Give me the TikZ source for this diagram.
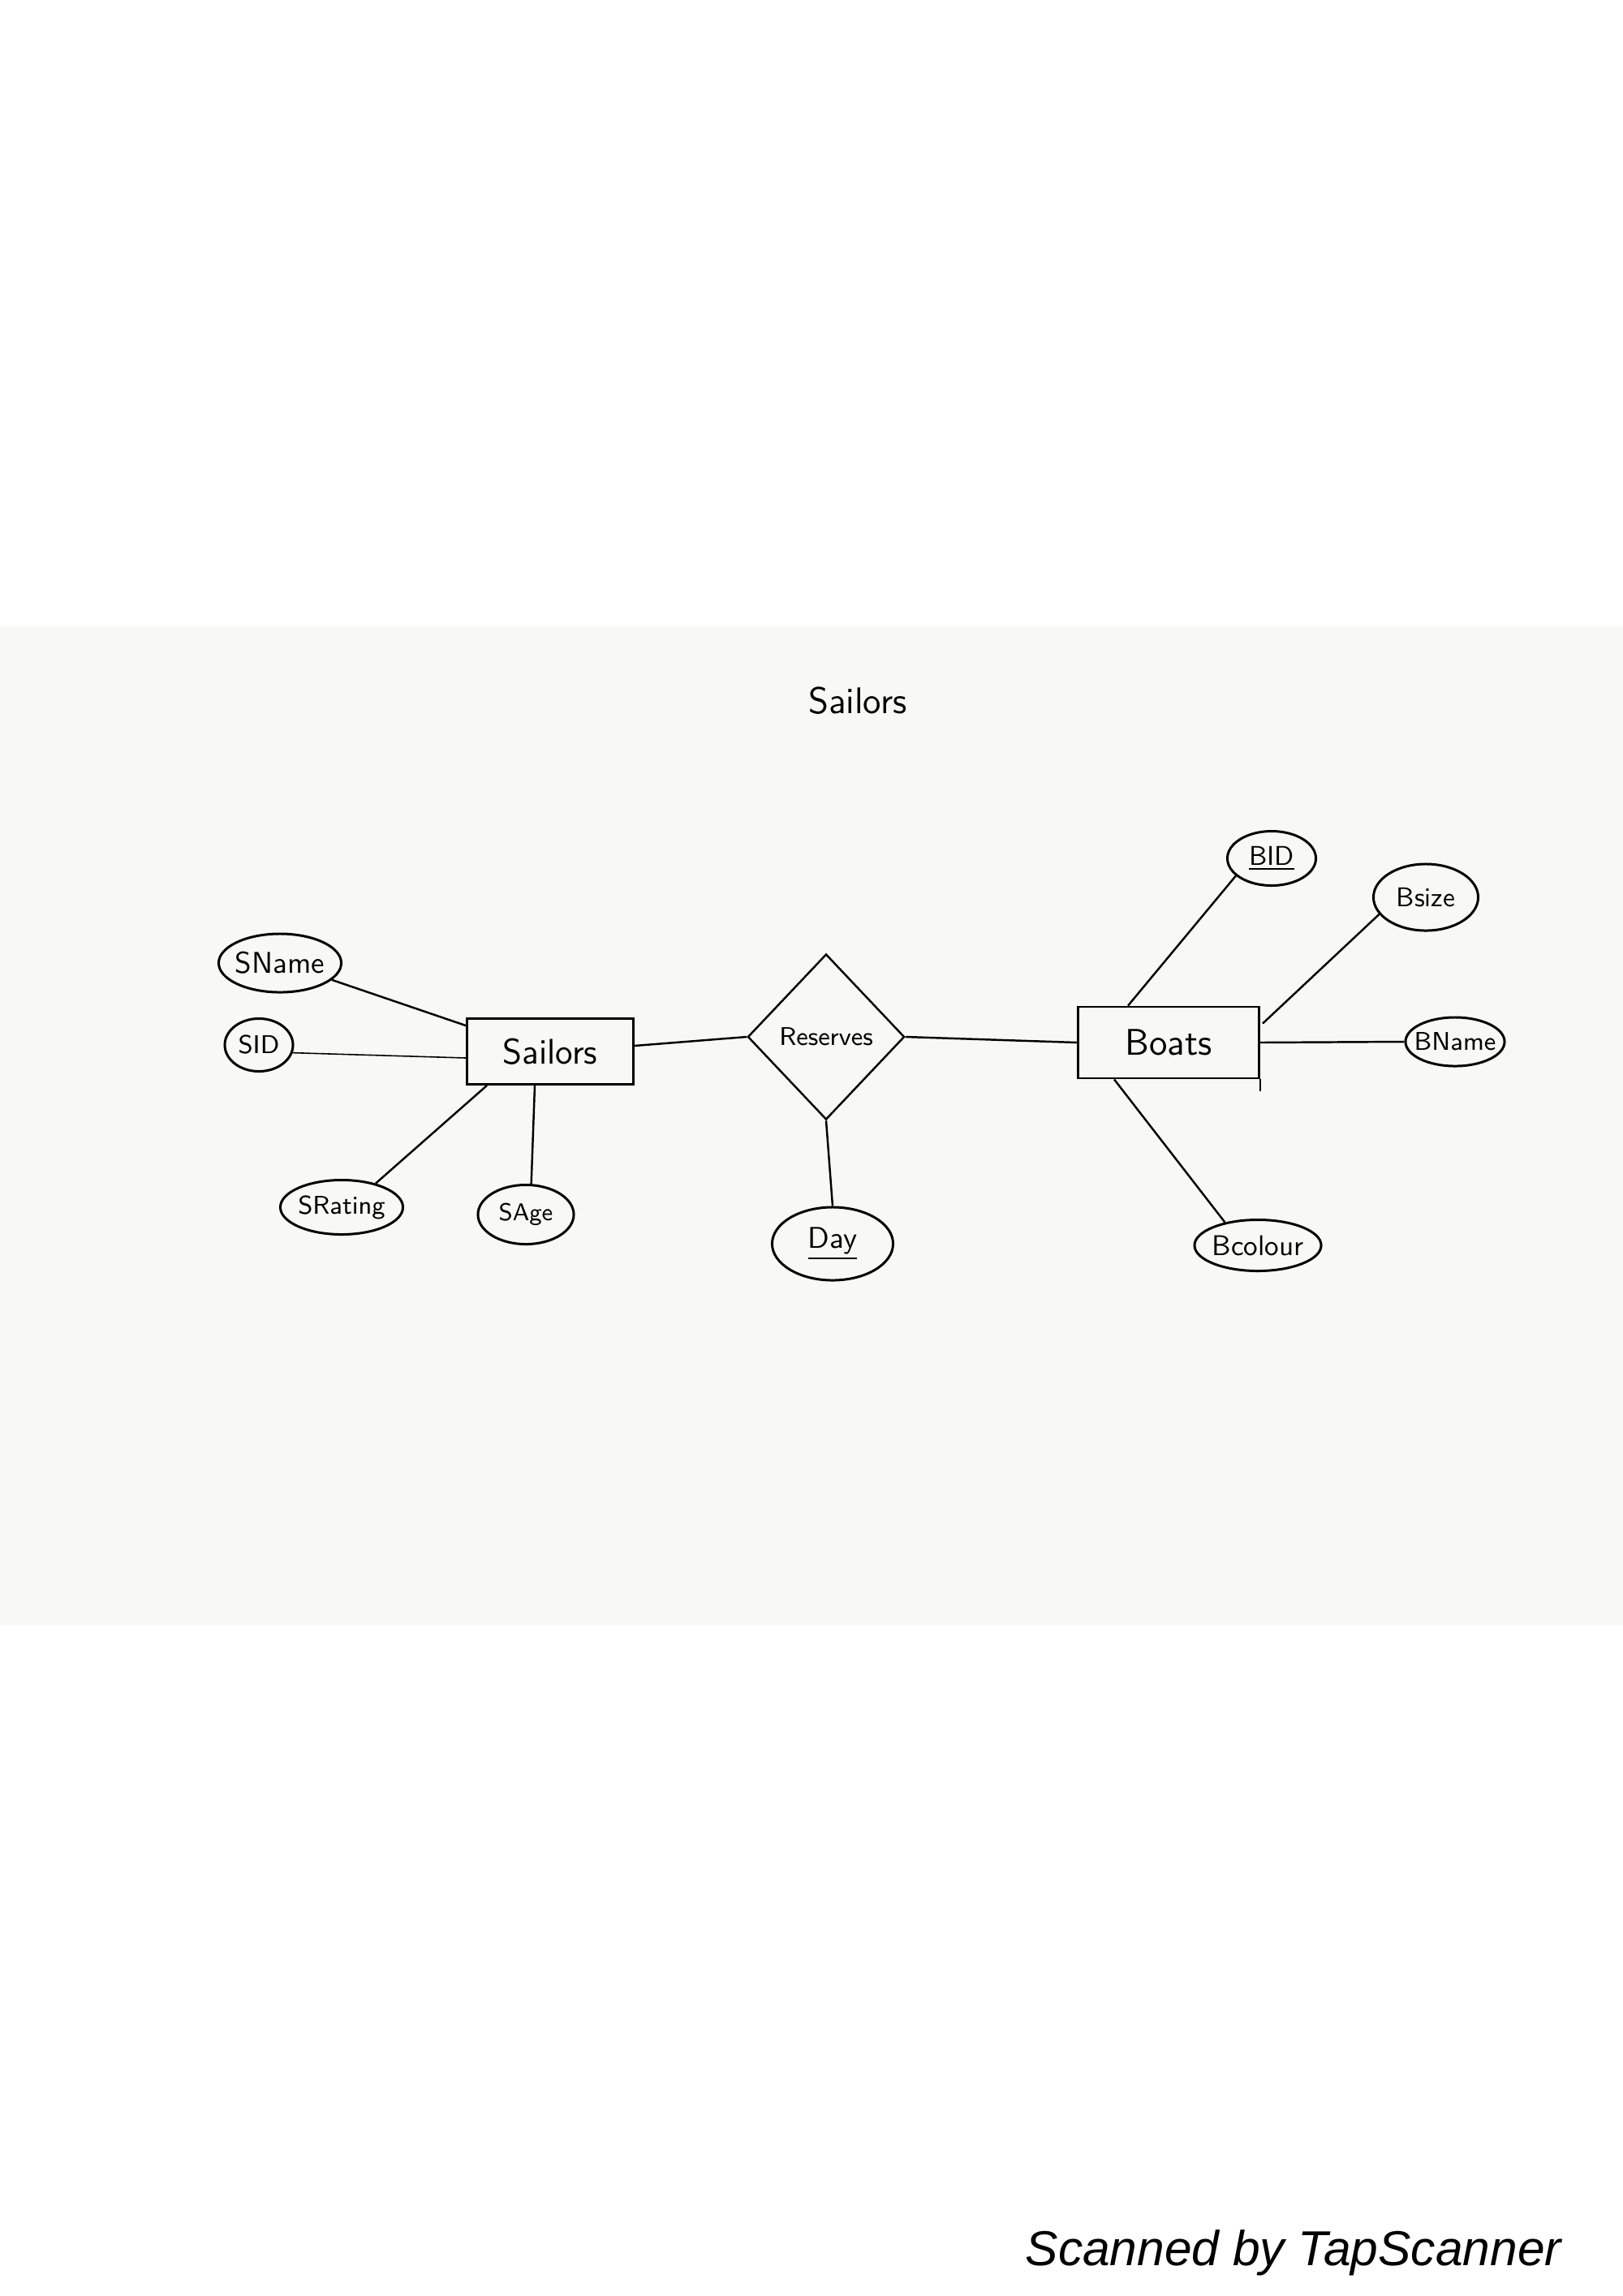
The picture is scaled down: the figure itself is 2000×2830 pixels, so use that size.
\documentclass[tikz,border=0pt]{standalone}
\usepackage{fontspec}
\usepackage{graphicx}
\newfontfamily\scanfont{Liberation Sans}
\usetikzlibrary{shapes.geometric,calc}
\definecolor{paper}{RGB}{248,248,246}
\newcommand\zw[1]{\makebox[0pt]{#1}}
\begin{document}
\begin{tikzpicture}[x=0.01cm,y=-0.01cm,
  entity/.style={draw, line width=0.8pt, rectangle, inner sep=0pt},
  attr/.style={draw, ellipse, line width=0.85pt, inner sep=0pt},
  rel/.style={draw, diamond, line width=0.7pt, inner sep=0pt, minimum width=1.93cm, minimum height=2.04cm},
  link/.style={line width=0.7pt},
  hand/.style={font=\sffamily\fontsize{#1}{#1}\selectfont}]
\fill[paper] (0,772) rectangle (2000,2003);
\useasboundingbox (0,0) rectangle (2000,2830);

\node[hand=13] (title) at (1057,864) {Sailors};

\node[entity, hand=12.5, minimum width=2.05cm, minimum height=0.81cm] (sailors) at (678,1296) {Sailors};
\node[entity, hand=13, minimum width=2.23cm, minimum height=0.88cm] (boats) at (1440,1285) {Boats};
\node[rel, hand=9] (reserves) at (1018,1278) {Reserves};

\node[attr, hand=10.5, minimum width=1.51cm, minimum height=0.72cm] (sname) at (345,1187) {\zw{SName}};
\node[attr, hand=9, minimum width=0.84cm, minimum height=0.65cm] (sid) at (319,1288) {\zw{SID}};
\node[attr, hand=9, minimum width=1.51cm, minimum height=0.67cm] (srating) at (421,1488) {\zw{SRating}};
\node[attr, hand=8.5, minimum width=1.18cm, minimum height=0.73cm] (sage) at (648,1497) {\zw{SAge}};
\node[attr, hand=10.5, minimum width=1.49cm, minimum height=0.90cm] (day) at (1026,1533) {\zw{\underline{Day}}};
\node[attr, hand=9.5, minimum width=1.09cm, minimum height=0.67cm] (bid) at (1567,1058) {\zw{\underline{BID}}};
\node[attr, hand=9.5, minimum width=1.29cm, minimum height=0.82cm] (bsize) at (1757,1106) {\zw{Bsize}};
\node[attr, hand=9, minimum width=1.22cm, minimum height=0.60cm] (bname) at (1793,1284) {\zw{BName}};
\node[attr, hand=10, minimum width=1.56cm, minimum height=0.63cm] (bcolour) at (1550,1535) {\zw{Bcolour}};

\draw[link] (sname.-18) -- ($(sailors.north west)+(0,10)$);
\draw[link, line width=0.45pt] (sid.-13) -- ($(sailors.west)+(0,8)$);
\draw[link] (srating.35) -- ($(sailors.south west)+(26,0)$);
\draw[link] (sage.80) -- ($(sailors.south)+(-19,0)$);
\draw[link] ($(sailors.east)+(0,-7)$) -- (reserves.west);
\draw[link] (reserves.east) -- (boats.west);
\draw[link] (reserves.south) -- (day.north);
\draw[link] (bid.206) -- ($(boats.north west)+(63,0)$);
\draw[link] (bsize.200) -- ($(boats.north east)+(3,22)$);
\draw[link] (boats.east) -- (bname.west);
\draw[link] (bcolour.145) -- ($(boats.south west)+(46,0)$);
\draw[line width=0.8pt] (boats.south east) -- ++(0,15);

\node[anchor=base west, inner sep=0pt, font=\scanfont\itshape\fontsize{17.2}{21}\selectfont] (scan) at (1263,2792) {Scanned by TapScanner};
\end{tikzpicture}
\end{document}
